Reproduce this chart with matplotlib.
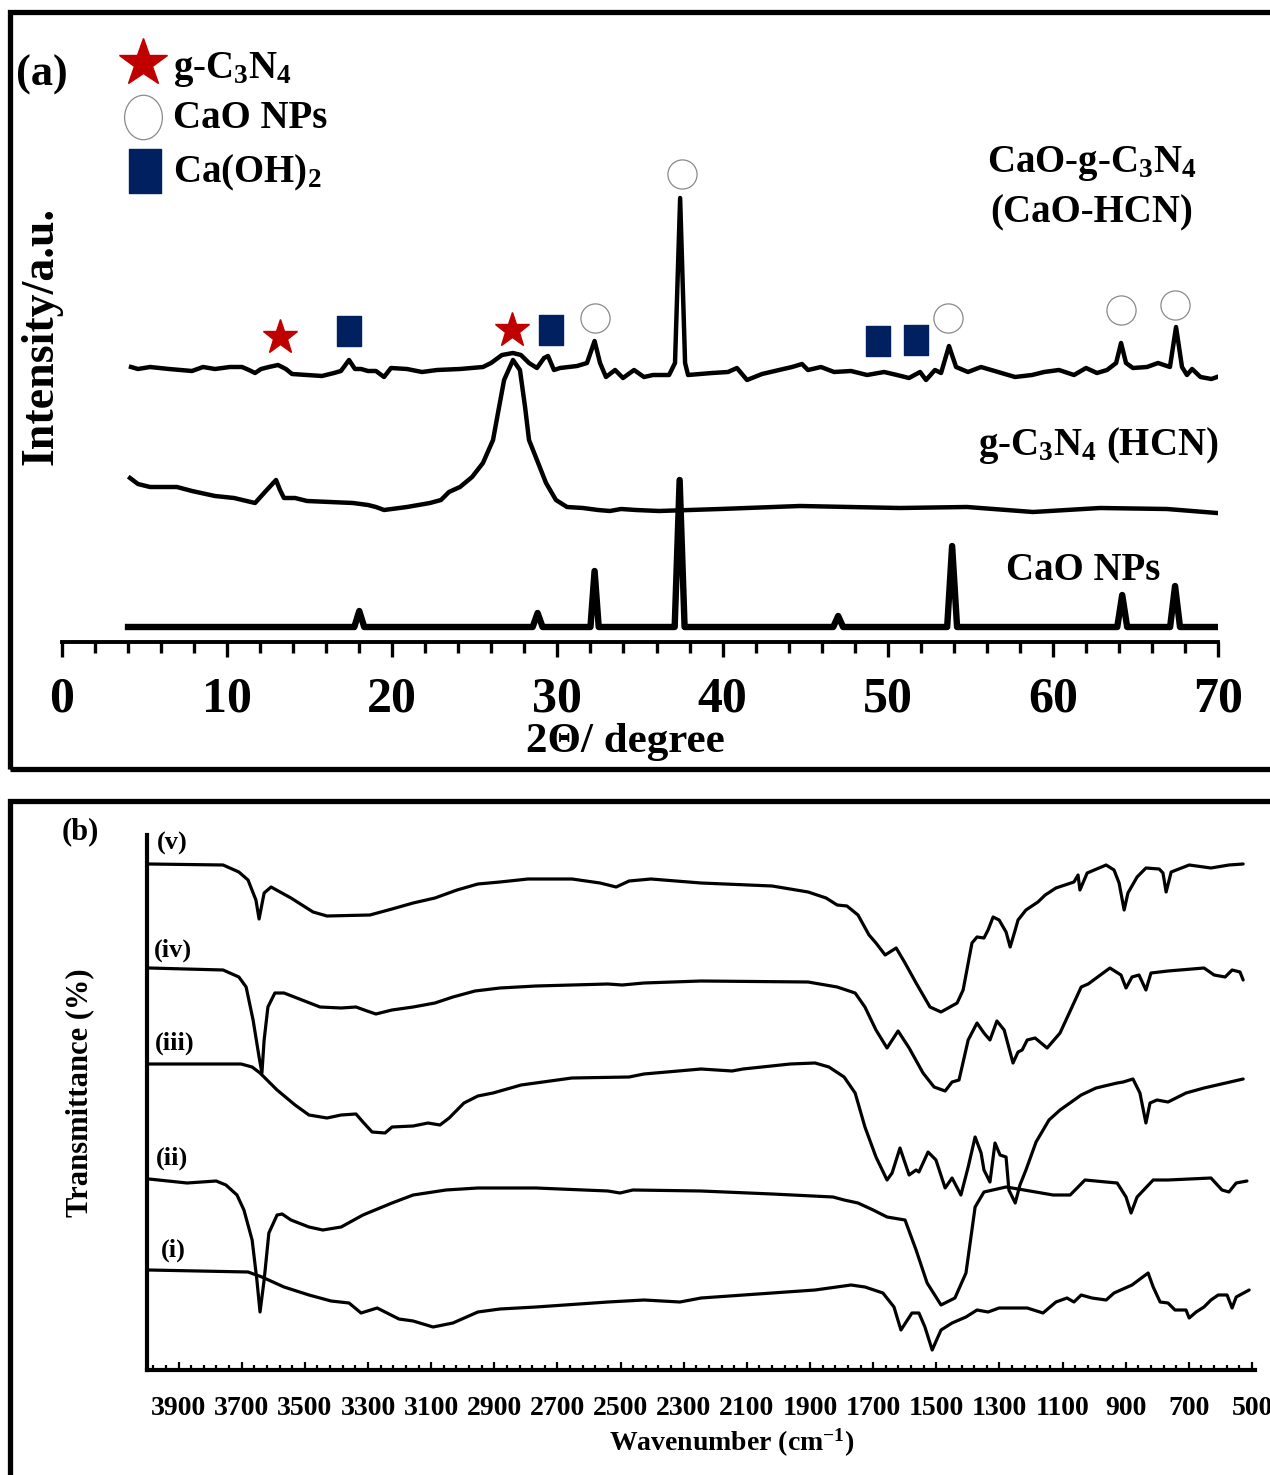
import numpy as np
import matplotlib
matplotlib.use('Agg')
import matplotlib.pyplot as plt
from matplotlib.patches import Rectangle
from matplotlib.path import Path
from matplotlib.ticker import FixedLocator, MultipleLocator

plt.rcParams['font.family'] = ['Liberation Serif', 'DejaVu Serif']
plt.rcParams['font.weight'] = 'bold'
plt.rcParams['mathtext.fontset'] = 'custom'
plt.rcParams['mathtext.rm'] = 'Liberation Serif:bold'
plt.rcParams['mathtext.it'] = 'Liberation Serif:bold'
plt.rcParams['mathtext.bf'] = 'Liberation Serif:bold'

# ---------------- XRD data (2theta, intensity a.u.) ----------------
xrd_hcn_caO_tt = [4.18, 4.60, 5.33, 6.48, 7.87, 8.54, 9.26, 10.17, 10.90, 11.32, 11.69, 12.05, 12.53,
                  13.08, 13.56, 13.93, 14.84, 15.74, 16.47, 16.89, 17.38, 17.74, 18.11, 18.53, 19.01,
                  19.50, 19.92, 20.89, 21.80, 22.71, 24.10, 25.49, 25.98, 26.64, 27.31, 27.79, 28.28,
                  28.76, 29.19, 29.43, 29.79, 30.16, 31.19, 31.79, 32.25, 32.58, 32.94, 33.49, 33.97,
                  34.64, 35.24, 35.79, 36.76, 37.12, 37.43, 37.73, 37.91, 39.36, 40.33, 40.87, 41.48,
                  42.39, 43.42, 44.21, 44.81, 45.17, 45.96, 46.75, 47.78, 48.75, 49.78, 50.56, 51.29,
                  51.96, 52.32, 52.86, 53.23, 53.71, 54.14, 54.86, 55.65, 56.68, 57.71, 58.74, 59.47,
                  60.37, 61.28, 62.01, 62.67, 63.28, 63.83, 64.13, 64.43, 64.85, 65.70, 66.37, 67.09,
                  67.46, 67.82, 68.12, 68.43, 68.94, 69.60, 69.94]
xrd_hcn_caO_i = [275, 273, 275, 273, 271, 275, 273, 275, 275, 272, 269, 273, 275,
                 277, 273, 268, 267, 266, 269, 271, 282, 273, 273, 271, 271,
                 265, 274, 273, 270, 272, 273, 275, 279, 287, 289, 287, 279,
                 274, 284, 286, 272, 274, 276, 279, 301, 279, 265, 272, 264,
                 272, 265, 267, 267, 279, 444, 279, 267, 269, 270, 274, 262,
                 268, 272, 275, 278, 272, 275, 270, 271, 267, 270, 267, 264,
                 270, 262, 272, 269, 296, 275, 270, 275, 270, 265, 267, 270,
                 272, 267, 274, 269, 272, 279, 299, 279, 274, 275, 279, 275,
                 315, 275, 267, 273, 265, 263, 265]

xrd_hcn_tt = [4.12, 4.60, 5.33, 6.96, 7.87, 9.26, 10.42, 11.69, 12.29, 12.96, 13.20, 13.44, 14.11,
              14.84, 16.23, 17.62, 18.53, 19.01, 19.50, 20.89, 22.28, 22.95, 23.43, 24.10, 24.83,
              25.49, 26.10, 26.40, 26.77, 27.31, 27.73, 28.04, 28.28, 28.76, 29.31, 29.91, 30.58,
              31.55, 32.46, 33.18, 33.85, 34.76, 36.15, 39.85, 44.69, 50.74, 54.80, 58.80, 62.86,
              66.91, 69.94]
xrd_hcn_i = [164, 158, 155, 155, 151, 146, 144, 139, 150, 162, 152, 144, 144,
             141, 140, 139, 137, 135, 132, 135, 139, 142, 150, 155, 165,
             179, 202, 229, 262, 282, 272, 235, 202, 182, 159, 142, 135,
             134, 132, 131, 133, 132, 131, 133, 136, 134, 135, 130, 134,
             133, 129]

xrd_cao_tt = [4.0, 10.0, 17.7, 18.0, 18.3, 28.5, 28.8, 29.1, 32.0, 32.25, 32.5, 37.1, 37.4, 37.7,
              46.7, 47.0, 47.3, 53.6, 53.9, 54.2, 63.9, 64.2, 64.5, 67.1, 67.4, 67.7, 70.0]
xrd_cao_i = [15, 15, 15, 31, 15, 15, 29, 15, 15, 71, 15, 15, 162, 15,
             15, 26, 15, 15, 96, 15, 15, 47, 15, 15, 56, 15, 15]

# phase markers on CaO-HCN pattern (2theta, height)
star_tt, star_i = [13.2, 27.25], [305, 312]
sq_tt, sq_i = [17.38, 29.6, 49.4, 51.7], [311, 312, 301, 302]
circ_tt, circ_i = [32.3, 37.54, 53.65, 64.1, 67.4], [324, 468, 324, 332, 337]

xrd_ticks = [0, 10, 20, 30, 40, 50, 60, 70]

# ---------------- FTIR data (wavenumber, transmittance a.u.) ----------------
wn_v = [3994, 3759, 3709, 3680, 3655, 3645, 3629, 3607, 3544, 3474, 3430, 3294, 3224, 3157, 3088,
        3018, 2952, 2882, 2793, 2654, 2565, 2514, 2473, 2404, 2245, 2020, 1906, 1849, 1814, 1783,
        1748, 1713, 1691, 1662, 1627, 1599, 1564, 1520, 1485, 1434, 1415, 1387, 1371, 1349, 1336,
        1320, 1301, 1279, 1266, 1250, 1241, 1216, 1178, 1155, 1121, 1064, 1051, 1045, 1022, 962,
        937, 921, 905, 893, 864, 836, 794, 782, 772, 756, 699, 630, 573, 528]
t_v = [506, 505, 498, 490, 470, 451, 477, 483, 472, 458, 454, 455, 461, 467, 472,
       480, 486, 488, 491, 491, 487, 483, 489, 491, 487, 484, 478, 472, 465, 464,
       455, 435, 427, 415, 422, 407, 387, 363, 358, 367, 380, 427, 433, 432, 440,
       453, 450, 438, 423, 440, 450, 460, 468, 475, 482, 488, 495, 480, 497, 505,
       500, 487, 460, 477, 493, 502, 501, 497, 478, 498, 505, 502, 505, 506]

wn_iv = [3994, 3759, 3709, 3686, 3664, 3645, 3636, 3629, 3617, 3595, 3566, 3509, 3452, 3385, 3338,
         3303, 3275, 3224, 3157, 3088, 3031, 2961, 2882, 2768, 2540, 2495, 2426, 2245, 1906, 1814,
         1757, 1726, 1691, 1656, 1621, 1586, 1542, 1507, 1472, 1450, 1428, 1399, 1371, 1349, 1330,
         1308, 1285, 1257, 1241, 1228, 1212, 1187, 1149, 1108, 1041, 1019, 950, 915, 899, 880,
         858, 836, 820, 766, 652, 620, 585, 563, 538, 528]
t_iv = [402, 400, 393, 383, 350, 313, 297, 330, 363, 377, 377, 370, 363, 362, 363,
        359, 356, 360, 363, 367, 373, 379, 382, 384, 386, 385, 387, 389, 388, 383,
        377, 363, 340, 322, 339, 322, 297, 283, 279, 288, 290, 330, 347, 337, 330,
        349, 340, 307, 318, 320, 330, 332, 322, 337, 383, 386, 402, 395, 382, 393,
        395, 380, 397, 399, 402, 395, 393, 400, 398, 390]

wn_iii = [3994, 3702, 3667, 3642, 3588, 3531, 3487, 3430, 3385, 3338, 3316, 3287, 3246, 3224, 3157,
          3110, 3072, 3043, 2996, 2952, 2904, 2815, 2654, 2473, 2426, 2245, 2147, 2112, 1963, 1884,
          1840, 1792, 1757, 1726, 1691, 1656, 1640, 1615, 1586, 1564, 1555, 1526, 1501, 1472, 1450,
          1422, 1399, 1377, 1358, 1349, 1330, 1314, 1298, 1279, 1270, 1250, 1235, 1216, 1184, 1143,
          1108, 1041, 994, 927, 908, 877, 855, 836, 823, 801, 766, 709, 652, 528]
t_iii = [306, 306, 303, 297, 280, 265, 255, 252, 255, 256, 248, 238, 237, 243, 244,
         247, 245, 252, 267, 274, 277, 285, 292, 293, 296, 301, 299, 301, 306, 307,
         303, 293, 277, 243, 213, 190, 197, 222, 195, 200, 198, 218, 210, 182, 192,
         175, 203, 233, 217, 200, 188, 227, 215, 213, 180, 167, 185, 200, 228, 250,
         260, 275, 282, 287, 288, 291, 277, 247, 267, 270, 268, 277, 282, 291]

wn_ii = [3994, 3873, 3781, 3750, 3715, 3693, 3667, 3652, 3642, 3629, 3614, 3588, 3572, 3544, 3487,
         3443, 3385, 3316, 3224, 3157, 3053, 2952, 2768, 2540, 2502, 2461, 2245, 2020, 1827, 1792,
         1748, 1700, 1656, 1599, 1564, 1529, 1485, 1441, 1406, 1377, 1349, 1279, 1222, 1130, 1076,
         1029, 962, 927, 899, 883, 864, 813, 766, 630, 595, 573, 550, 516]
t_ii = [191, 187, 189, 185, 175, 160, 130, 90, 58, 90, 137, 155, 156, 150, 143,
        140, 143, 155, 167, 175, 180, 182, 182, 179, 177, 180, 179, 176, 173, 170,
        167, 160, 153, 150, 120, 87, 65, 72, 97, 163, 178, 183, 180, 175, 175,
        190, 188, 187, 173, 157, 173, 190, 190, 192, 180, 178, 187, 189]

wn_i = [3994, 3680, 3636, 3566, 3487, 3417, 3360, 3322, 3271, 3202, 3157, 3094, 3031, 2952, 2882,
        2768, 2540, 2426, 2312, 2245, 2020, 1884, 1770, 1726, 1669, 1634, 1612, 1577, 1555, 1536,
        1513, 1485, 1450, 1406, 1371, 1336, 1301, 1212, 1162, 1121, 1086, 1064, 1041, 1007, 962,
        937, 880, 829, 813, 791, 766, 744, 709, 699, 677, 652, 630, 607, 579, 563, 550, 509]
t_i = [100, 98, 93, 83, 75, 69, 67, 57, 62, 51, 49, 43, 47, 58, 61,
       63, 68, 70, 68, 72, 77, 80, 85, 83, 77, 63, 40, 57, 57, 43,
       20, 40, 47, 53, 60, 58, 62, 62, 57, 68, 72, 68, 75, 72, 70,
       77, 85, 97, 83, 68, 67, 60, 60, 52, 58, 63, 70, 75, 75, 62, 73, 80]

ftir_series = [(wn_v, t_v), (wn_iv, t_iv), (wn_iii, t_iii), (wn_ii, t_ii), (wn_i, t_i)]
ftir_labels = ['(v)', '(iv)', '(iii)', '(ii)', '(i)']
ftir_major = list(range(3900, 499, -200))

# ---------------- figure ----------------
W, H = 1270, 1475
fig = plt.figure(figsize=(12.7, 14.75), dpi=100)


def fx(x):
    return x / W


def fy(y):
    return 1 - y / H


# panel frames
fig.add_artist(Rectangle((fx(10), fy(769)), fx(1300), (769 - 12) / H, transform=fig.transFigure,
                         fill=False, lw=3.8, ec='black'))
fig.add_artist(Rectangle((fx(10), fy(1520)), fx(1300), (1520 - 801) / H, transform=fig.transFigure,
                         fill=False, lw=3.8, ec='black'))

STAR_C = '#C00000'
SQ_C = '#002060'
CIRC_C = '#8A8A8A'

rect_marker = Path([(-0.38, -0.5), (0.38, -0.5), (0.38, 0.5), (-0.38, 0.5), (-0.38, -0.5)],
                   [Path.MOVETO, Path.LINETO, Path.LINETO, Path.LINETO, Path.CLOSEPOLY])
uc = Path.unit_circle()
ell_marker = Path(uc.vertices * np.array([0.85, 1.0]), uc.codes)

# ---------------- panel (a) ----------------
axa = fig.add_axes([fx(62), fy(642), fx(1218) - fx(62), fy(12) - fy(642)])
axa.set_xlim(0, 70)
axa.set_ylim(0, 630)
for s in ['left', 'right', 'top']:
    axa.spines[s].set_visible(False)
axa.spines['bottom'].set_linewidth(2.8)
axa.set_yticks([])
axa.set_xticks(xrd_ticks)
axa.set_xticklabels([str(t) for t in xrd_ticks], fontsize=36, fontweight='bold')
axa.xaxis.set_minor_locator(MultipleLocator(2))
axa.tick_params(axis='x', which='major', direction='out', length=11, width=2.4, pad=14)
axa.tick_params(axis='x', which='minor', direction='out', length=8, width=2.4)
axa.patch.set_alpha(0)

lw_x = 3.2
axa.plot(xrd_hcn_caO_tt, xrd_hcn_caO_i, color='black', lw=lw_x, solid_joinstyle='round')
axa.plot(xrd_hcn_tt, xrd_hcn_i, color='black', lw=lw_x, solid_joinstyle='round')
axa.plot(xrd_cao_tt, xrd_cao_i, color='black', lw=4.6, solid_joinstyle='round')

axa.plot(star_tt, star_i, ls='none', marker='*', ms=26, color=STAR_C, mec=STAR_C, clip_on=False)
axa.plot(sq_tt, sq_i, ls='none', marker=rect_marker, ms=22, color=SQ_C, mec=SQ_C, clip_on=False)
axa.plot(circ_tt, circ_i, ls='none', marker='o', ms=21, mfc='white', mec=CIRC_C, mew=0.9, clip_on=False)

# legend (manual)
leg_ax = fig.add_axes([0, 0, 1, 1])
leg_ax.set_xlim(0, W)
leg_ax.set_ylim(H, 0)
leg_ax.axis('off')
leg_ax.plot([143], [63], marker='*', ms=36, color=STAR_C, ls='none')
leg_ax.plot([143], [117], marker=ell_marker, ms=32, mfc='white', mec=CIRC_C, mew=0.9, ls='none')
leg_ax.plot([145], [171], marker=rect_marker, ms=31, color=SQ_C, ls='none')

tfs = 28
fig.text(fx(173), fy(78), 'g-C$_3$N$_4$', fontsize=tfs, ha='left', va='baseline', fontweight='bold')
fig.text(fx(173), fy(128), 'CaO NPs', fontsize=tfs, ha='left', va='baseline', fontweight='bold')
fig.text(fx(173), fy(182), 'Ca(OH)$_2$', fontsize=tfs, ha='left', va='baseline', fontweight='bold')

fig.text(fx(42), fy(75), '(a)', fontsize=32, ha='center', va='center', fontweight='bold')
fig.text(fx(1092), fy(172), 'CaO-g-C$_3$N$_4$', fontsize=tfs, ha='center', va='baseline', fontweight='bold')
fig.text(fx(1092), fy(222), '(CaO-HCN)', fontsize=tfs, ha='center', va='baseline', fontweight='bold')
fig.text(fx(1098), fy(455), 'g-C$_3$N$_4$ (HCN)', fontsize=tfs, ha='center', va='baseline', fontweight='bold')
fig.text(fx(1083), fy(580), 'CaO NPs', fontsize=tfs, ha='center', va='baseline', fontweight='bold')

fig.text(fx(625), fy(742), '2\u0398/ degree', fontsize=31, ha='center', va='center', fontweight='bold')
fig.text(fx(42), fy(336), 'Intensity/a.u.', fontsize=33, ha='center', va='center', rotation=90,
         fontweight='bold')

# ---------------- panel (b) ----------------
axb = fig.add_axes([fx(147), fy(1370), fx(1252) - fx(147), fy(835) - fy(1370)])
axb.set_xlim(4000, 500)
axb.set_ylim(0, 535)
for s in ['right', 'top']:
    axb.spines[s].set_visible(False)
axb.spines['left'].set_linewidth(3.0)
axb.spines['bottom'].set_linewidth(3.0)
axb.spines['bottom'].set_bounds(4000, 490)
axb.set_yticks([])
axb.set_xticks(ftir_major)
axb.set_xticklabels([str(t) for t in ftir_major], fontsize=20, fontweight='bold')
axb.xaxis.set_minor_locator(FixedLocator(list(range(500, 4000, 40))))
axb.tick_params(axis='x', which='major', direction='in', length=6, width=1.6, pad=19)
axb.tick_params(axis='x', which='minor', direction='in', length=3.5, width=1.6)
axb.patch.set_alpha(0)

for wn, tt in ftir_series:
    axb.plot(wn, tt, color='black', lw=2.3, solid_joinstyle='round', solid_capstyle='round')

lab_pos = [(172, 843), (173, 950), (175, 1043), (172, 1158), (173, 1250)]
for lab, (lx, ly) in zip(ftir_labels, lab_pos):
    fig.text(fx(lx), fy(ly), lab, fontsize=19, ha='center', va='center', fontweight='bold')

fig.text(fx(80), fy(832), '(b)', fontsize=22, ha='center', va='center', fontweight='bold')
fig.text(fx(732), fy(1443), 'Wavenumber (cm$^{-1}$)', fontsize=20, ha='center', va='center',
         fontweight='bold')
fig.text(fx(80), fy(1093), 'Transmittance (%)', fontsize=22, ha='center', va='center', rotation=90,
         fontweight='bold')

fig.savefig('out.png', dpi=100)
